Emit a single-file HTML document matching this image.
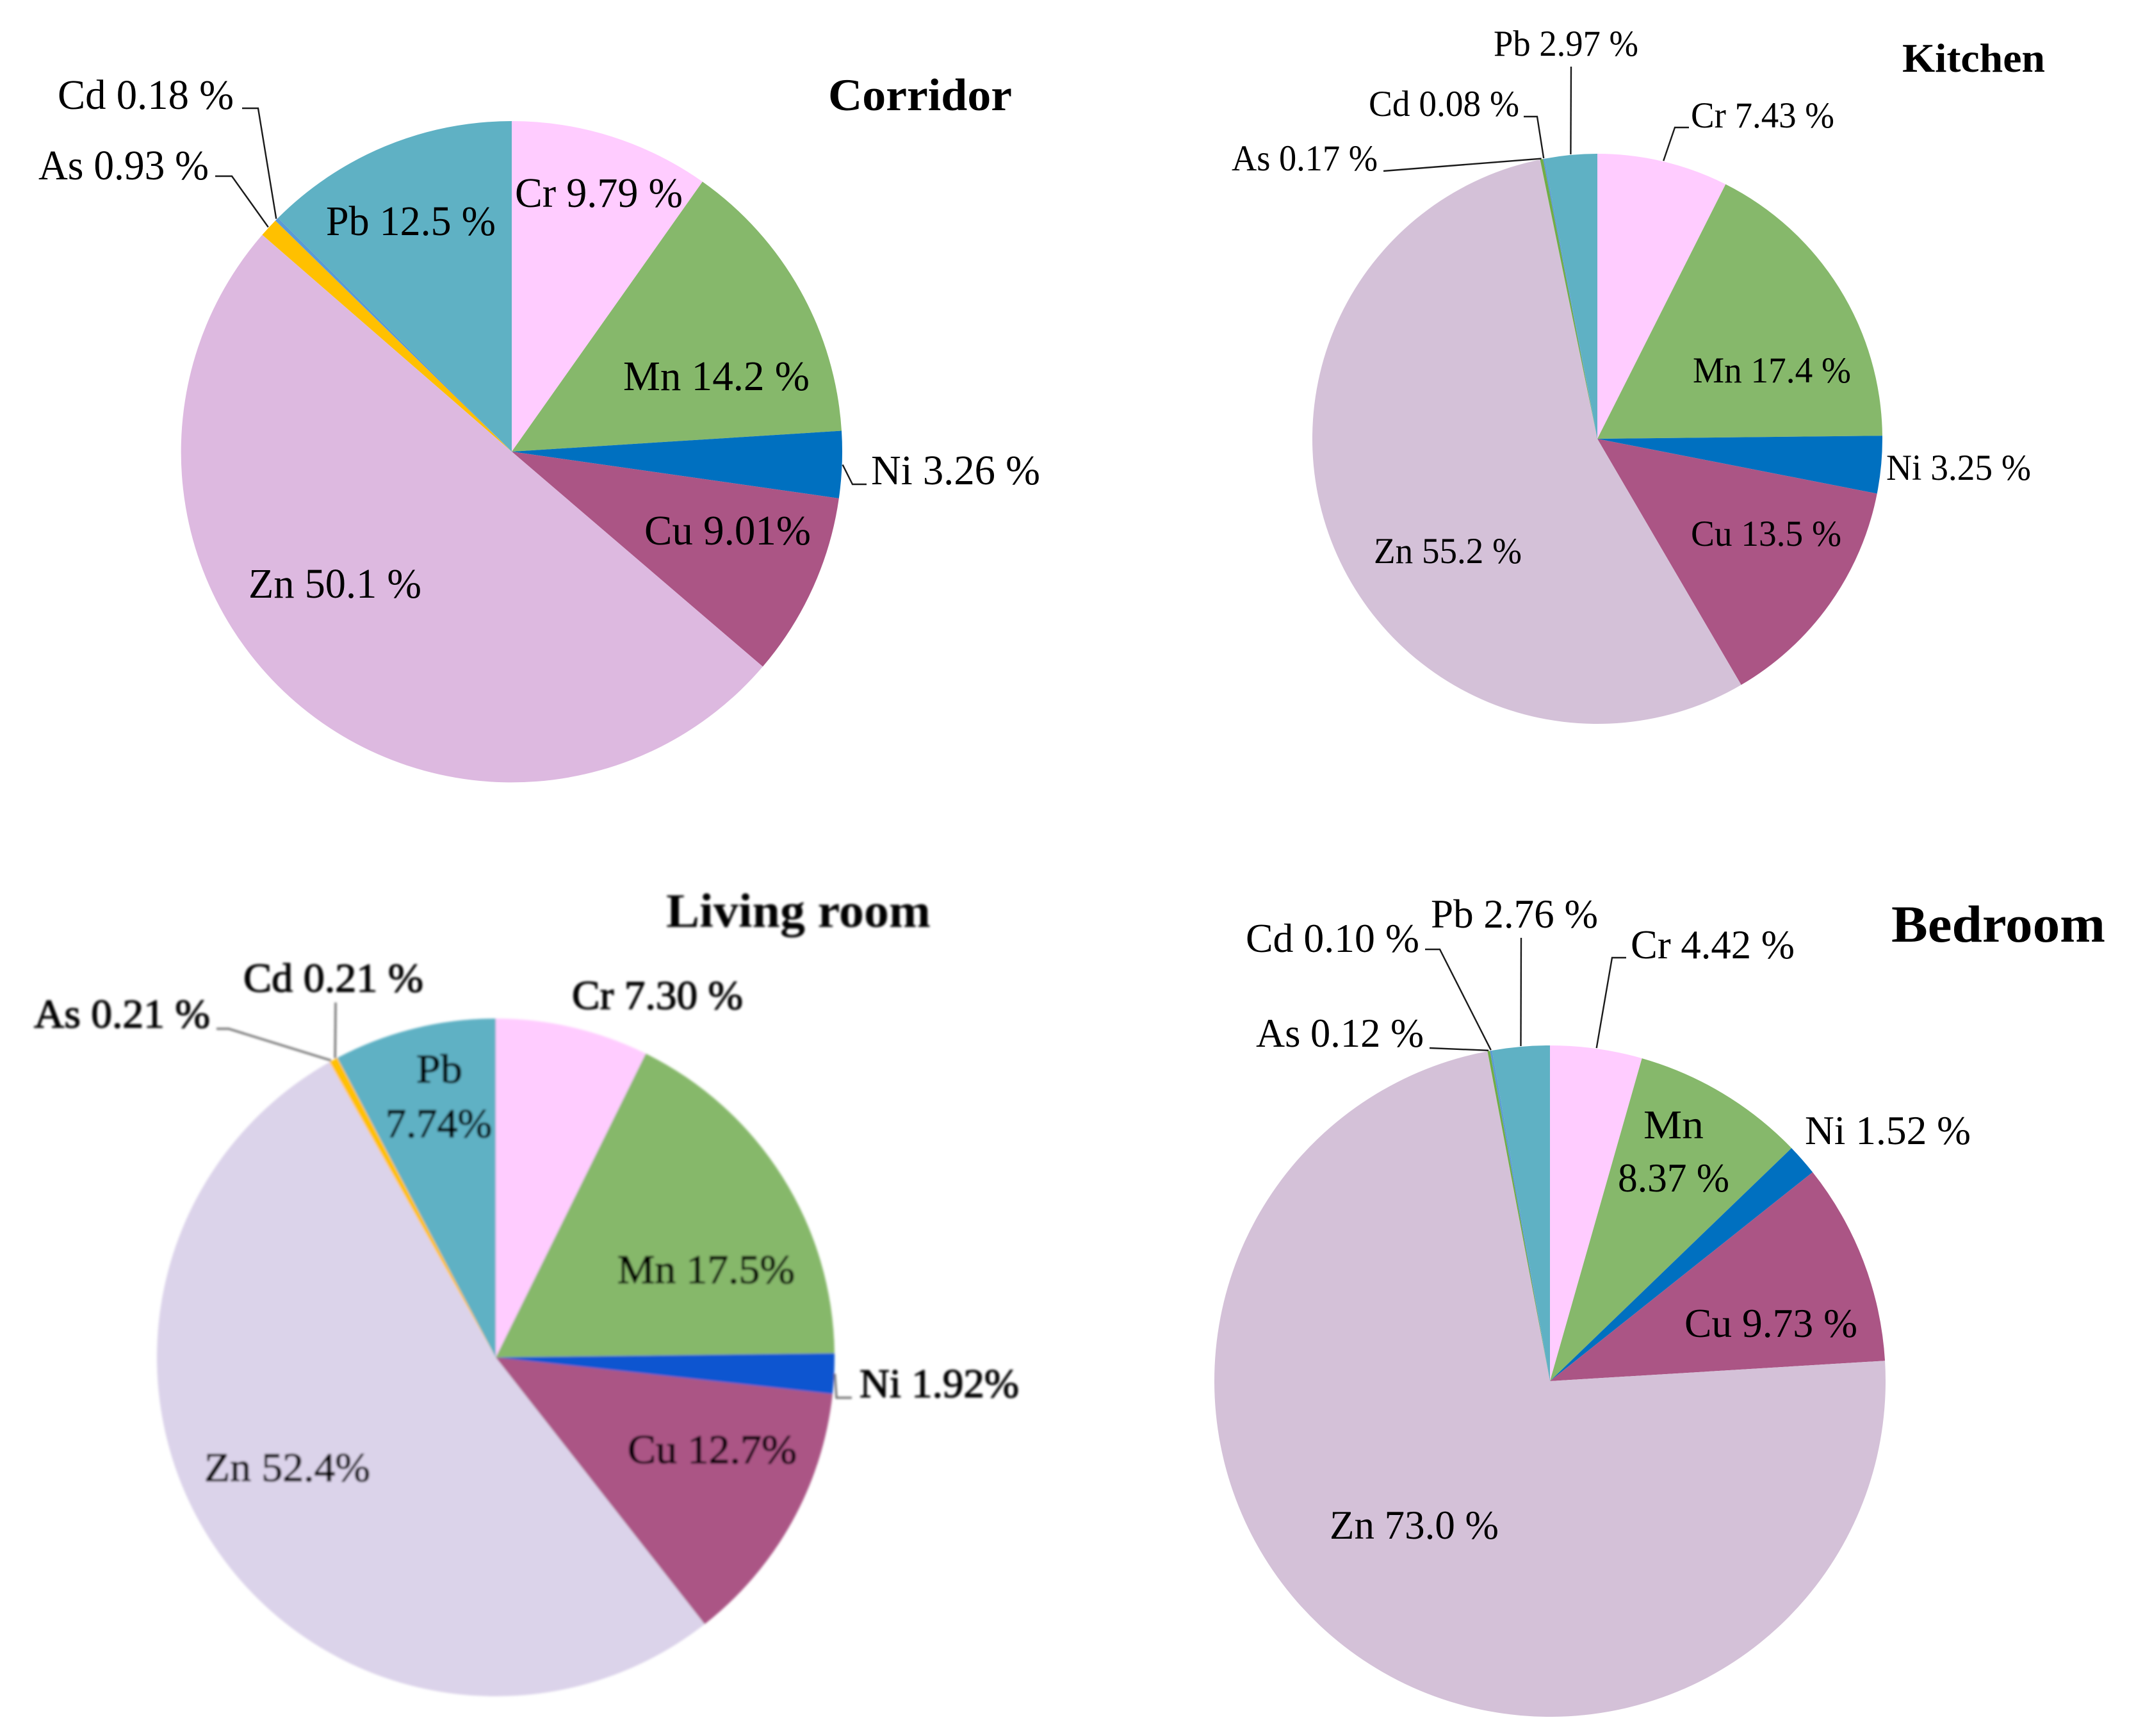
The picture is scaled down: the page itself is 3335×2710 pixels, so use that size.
<!DOCTYPE html>
<html lang="en">
<head>
<meta charset="utf-8">
<title>Heavy metal share by room</title>
<style>
  html, body { margin: 0; padding: 0; background: #fff; }
  svg { display: block; }
  text { font-family: "Liberation Serif", "DejaVu Serif", serif; fill: #000; }
  .title { font-weight: bold; }
</style>
</head>
<body>
<svg id="figure" xmlns="http://www.w3.org/2000/svg" width="3335" height="2710" viewBox="0 0 3335 2710">
  <defs>
    <filter id="soft" x="-5%" y="-5%" width="110%" height="110%">
      <feGaussianBlur stdDeviation="1.8"/>
    </filter>
  </defs>
  <rect width="3335" height="2710" fill="#ffffff"/>
</svg>
<script>
// ---- data ----
const categories = ['Cr', 'Mn', 'Ni', 'Cu', 'Zn', 'As', 'Cd', 'Pb'];

const corridorValues = [9.79, 14.2, 3.26, 9.01, 50.1, 0.93, 0.18, 12.5];
const kitchenValues  = [7.43, 17.4, 3.25, 13.5, 55.2, 0.17, 0.08, 2.97];
const livingValues   = [7.30, 17.5, 1.92, 12.7, 52.4, 0.21, 0.21, 7.74];
const bedroomValues  = [4.42, 8.37, 1.52, 9.73, 73.0, 0.12, 0.10, 2.76];

const corridorLabels = ['Cr 9.79 %', 'Mn 14.2 %', 'Ni 3.26 %', 'Cu 9.01%', 'Zn 50.1 %', 'As 0.93 %', 'Cd 0.18 %', 'Pb 12.5 %'];
const kitchenLabels  = ['Cr 7.43 %', 'Mn 17.4 %', 'Ni 3.25 %', 'Cu 13.5 %', 'Zn 55.2 %', 'As 0.17 %', 'Cd 0.08 %', 'Pb 2.97 %'];
const livingLabels   = ['Cr 7.30 %', 'Mn 17.5%', 'Ni 1.92%', 'Cu 12.7%', 'Zn 52.4%', 'As 0.21 %', 'Cd 0.21 %', 'Pb|7.74%'];
const bedroomLabels  = ['Cr 4.42 %', 'Mn|8.37 %', 'Ni 1.52 %', 'Cu 9.73 %', 'Zn 73.0 %', 'As 0.12 %', 'Cd 0.10 %', 'Pb 2.76 %'];

// ---- layout (not data) ----
const charts = [
  {
    id: 'corridor', title: 'Corridor', values: corridorValues, labels: corridorLabels,
    cx: 799, cy: 705, r: 516, size: 66, titleSize: 71, titleBox: [1293, 1580, 172],
    colors: ['#FFCCFF', '#86B86B', '#0070C0', '#AB5585', '#DDB9E0', '#FFC000', '#5B9BD5', '#5FB1C4'],
    boxes: {
      Cr: [[804, 1066, 323]], Mn: [[973, 1264, 609]], Ni: [[1360, 1624, 756]], Cu: [[1006, 1266, 850]],
      Zn: [[388, 658, 933]], As: [[60, 326, 280]], Cd: [[90, 365, 170]], Pb: [[509, 774, 367]]
    },
    leaders: {
      As: [[336, 275], [362, 275]], Cd: [[378, 169], [403, 169]], Ni: [[1353, 756], [1331, 756]]
    },
    leaderColor: '#1a1a1a', leaderWidth: 2.4, blur: false, boldText: false
  },
  {
    id: 'kitchen', title: 'Kitchen', values: kitchenValues, labels: kitchenLabels,
    cx: 2494, cy: 685, r: 445, size: 57, titleSize: 64, titleBox: [2970, 3193, 112],
    colors: ['#FFCCFF', '#86B86B', '#0070C0', '#AB5585', '#D4C1D8', '#70AD47', '#5B9BD5', '#5FB1C4'],
    boxes: {
      Cr: [[2640, 2864, 199]], Mn: [[2643, 2890, 597]], Ni: [[2945, 3171, 749]], Cu: [[2640, 2875, 852]],
      Zn: [[2145, 2376, 879]], As: [[1923, 2151, 266]], Cd: [[2137, 2372, 181]], Pb: [[2332, 2558, 87]]
    },
    leaders: {
      Cr: [[2637, 199], [2615, 199]], As: [[2160, 267]], Cd: [[2379, 182], [2400, 182]], Pb: [[2453, 104]]
    },
    leaderColor: '#1a1a1a', leaderWidth: 2.4, blur: false, boldText: false
  },
  {
    id: 'living-room', title: 'Living room', values: livingValues, labels: livingLabels,
    cx: 774, cy: 2119, r: 529, size: 64, titleSize: 75, titleBox: [1040, 1453, 1447],
    colors: ['#FFCCFF', '#86B86B', '#0F54D0', '#AB5585', '#DBD3EA', '#FFC000', '#FFC000', '#5FB1C4'],
    boxes: {
      Cr: [[893, 1160, 1575]], Mn: [[964, 1241, 2003]], Ni: [[1342, 1591, 2181]], Cu: [[980, 1244, 2284]],
      Zn: [[319, 578, 2312]], As: [[53, 328, 1604]], Cd: [[380, 661, 1548]], Pb: [[650, 722, 1690], [602, 768, 1775]]
    },
    leaders: {
      Ni: [[1330, 2182], [1306, 2182]], As: [[338, 1606], [357, 1606]], Cd: [[524, 1565]]
    },
    leaderColor: '#777777', leaderWidth: 3.4, blur: true, boldText: true
  },
  {
    id: 'bedroom', title: 'Bedroom', values: bedroomValues, labels: bedroomLabels,
    cx: 2420, cy: 2156, r: 524, size: 63, titleSize: 82, titleBox: [2953, 3287, 1470],
    colors: ['#FFCCFF', '#86B86B', '#0070C0', '#AB5585', '#D4C1D8', '#70AD47', '#5B9BD5', '#5FB1C4'],
    boxes: {
      Cr: [[2546, 2802, 1496]], Mn: [[2566, 2660, 1777], [2526, 2700, 1860]], Ni: [[2818, 3077, 1786]], Cu: [[2630, 2900, 2087]],
      Zn: [[2076, 2340, 2402]], As: [[1961, 2223, 1634]], Cd: [[1945, 2216, 1486]], Pb: [[2234, 2495, 1448]]
    },
    leaders: {
      Cr: [[2539, 1495], [2517, 1495]], As: [[2232, 1636]], Cd: [[2225, 1482], [2248, 1482]], Pb: [[2375, 1464]]
    },
    leaderColor: '#1a1a1a', leaderWidth: 2.4, blur: false, boldText: false
  }
];

// ---- drawing ----
const NS = 'http://www.w3.org/2000/svg';
const figure = document.getElementById('figure');

function angleOf(fraction) { return fraction * 2 * Math.PI; }
function rimX(chart, angle, radius) { return chart.cx + radius * Math.sin(angle); }
function rimY(chart, angle, radius) { return chart.cy - radius * Math.cos(angle); }

function fitText(node, x1, x2, baseline, size) {
  node.setAttribute('x', x1);
  node.setAttribute('y', baseline);
  node.setAttribute('font-size', size);
  node.setAttribute('textLength', x2 - x1);
  node.setAttribute('lengthAdjust', 'spacingAndGlyphs');
}

charts.forEach(function (chart) {
  const group = document.createElementNS(NS, 'g');
  
  
  if (chart.blur) group.setAttribute('filter', 'url(#soft)');
  figure.appendChild(group);

  const total = chart.values.reduce(function (a, b) { return a + b; }, 0);
  let running = 0;
  const mids = {};

  chart.values.forEach(function (value, i) {
    const start = angleOf(running / total);
    running += value;
    const end = angleOf(running / total);
    mids[categories[i]] = (start + end) / 2;

    const large = end - start > Math.PI ? 1 : 0;
    const d = 'M' + chart.cx + ' ' + chart.cy +
      'L' + rimX(chart, start, chart.r).toFixed(2) + ' ' + rimY(chart, start, chart.r).toFixed(2) +
      'A' + chart.r + ' ' + chart.r + ' 0 ' + large + ' 1 ' +
      rimX(chart, end, chart.r).toFixed(2) + ' ' + rimY(chart, end, chart.r).toFixed(2) + 'Z';

    const slice = document.createElementNS(NS, 'path');
    slice.setAttribute('d', d);
    slice.setAttribute('fill', chart.colors[i]);
    
    
    group.appendChild(slice);
  });

  Object.keys(chart.leaders).forEach(function (cat) {
    const mid = mids[cat];
    const pts = chart.leaders[cat].concat([[rimX(chart, mid, chart.r + 1), rimY(chart, mid, chart.r + 1)]]);
    const line = document.createElementNS(NS, 'polyline');
    line.setAttribute('points', pts.map(function (p) { return p[0].toFixed(1) + ',' + p[1].toFixed(1); }).join(' '));
    line.setAttribute('fill', 'none');
    line.setAttribute('stroke', chart.leaderColor);
    line.setAttribute('stroke-width', chart.leaderWidth);
    
    
    group.appendChild(line);
  });

  chart.labels.forEach(function (label, i) {
    const lines = label.split('|');
    const boxes = chart.boxes[categories[i]];
    lines.forEach(function (content, k) {
      const box = boxes[k];
      const t = document.createElementNS(NS, 'text');
      t.textContent = content;
      fitText(t, box[0], box[1], box[2], chart.size);
      if (chart.boldText) t.setAttribute('style', 'stroke:#000;stroke-width:1.3px');
      
      
      group.appendChild(t);
    });
  });

  const title = document.createElementNS(NS, 'text');
  title.textContent = chart.title;
  title.setAttribute('class', 'title');
  fitText(title, chart.titleBox[0], chart.titleBox[1], chart.titleBox[2], chart.titleSize);
  
  
  group.appendChild(title);
});
</script>
</body>
</html>
